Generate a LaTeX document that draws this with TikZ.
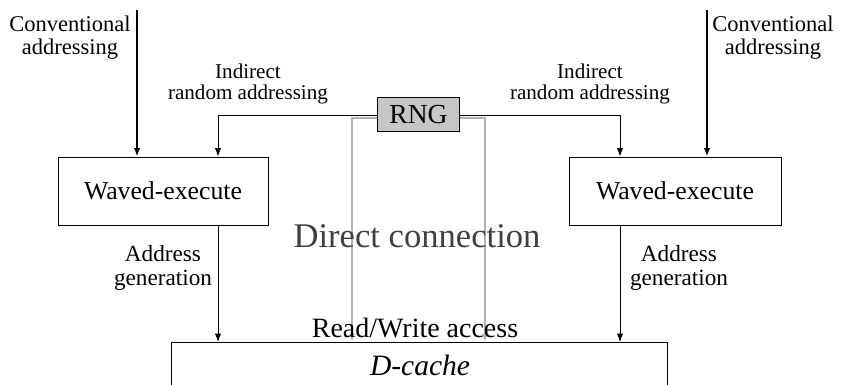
\documentclass[tikz,border=0pt]{standalone}
\usepackage{fontspec}
\setmainfont{Liberation Serif}
\usetikzlibrary{arrows.meta,positioning}

\tikzset{
  box/.style={draw, line width=0.6pt, minimum width=5.25cm, minimum height=1.7cm},
  lbl/.style={align=center, font=\fontsize{16}{16.5}\selectfont},
  arr/.style={-{Latex[length=6pt,width=4.5pt]}, line width=0.7pt},
  direct/.style={-{Latex[length=6pt,width=4.5pt]}, line width=1.4pt, gray!60}
}

\begin{document}
\begin{tikzpicture}[x=0.025cm, y=-0.025cm]
  \useasboundingbox (0,0) rectangle (841,384);

  % blocks
  \node[box, font=\fontsize{18.3}{20}\selectfont] (wl) at (163,191) {Waved-execute};
  \node[box, minimum width=5.3cm, font=\fontsize{18.3}{20}\selectfont] (wr) at (675,191) {Waved-execute};
  \node[draw, line width=0.6pt, fill=gray!45, minimum width=2.07cm, minimum height=0.87cm,
        inner sep=0pt, font=\fontsize{19.6}{20}\selectfont] (rng) at (418.5,114.5) {RNG};
  \draw[line width=0.6pt] (171,400) -- (171,342) coordinate (dtl) -- (667,342) coordinate (dtr) -- (667,400);
  \node[font=\itshape\fontsize{21}{22}\selectfont, anchor=base] (dc) at (420,375) {D-cache};

  % conventional addressing
  \coordinate (cl) at (137,10);
  \coordinate (cr) at (707,10);
  \draw[arr, line width=1.2pt] (cl) -- (cl |- wl.north);
  \draw[arr, line width=1.2pt] (cr) -- (cr |- wr.north);
  \node[lbl] (tcl) at (70,38) {Conventional\\addressing};
  \node[lbl] (tcr) at (773,38) {Conventional\\addressing};

  % indirect random addressing
  \coordinate (il) at (218,115);
  \coordinate (ir) at (620,115);
  \draw[arr] (rng.west |- il) -- (il) -- (il |- wl.north);
  \draw[arr] (rng.east |- ir) -- (ir) -- (ir |- wr.north);
  \node[lbl, font=\fontsize{15}{15}\selectfont] (til) at (248,84) {Indirect\\random addressing};
  \node[lbl, font=\fontsize{15}{15}\selectfont] (tir) at (590,84) {Indirect\\random addressing};

  % address generation
  \draw[arr] (wl.south -| il) -- (il |- dtl);
  \draw[arr] (wr.south -| ir) -- (ir |- dtl);
  \node[lbl, font=\fontsize{16.5}{16.5}\selectfont] (tal) at (163,268) {Address\\generation};
  \node[lbl, font=\fontsize{16.5}{16.5}\selectfont] (tar) at (679,268) {Address\\generation};

  % direct connection
  \coordinate (dl) at (352,118);
  \coordinate (dr) at (485,118);
  \draw[direct] (rng.west |- dl) -- (dl) -- (dl |- dtl);
  \draw[direct] (rng.east |- dr) -- (dr) -- (dr |- dtl);
  \node[anchor=base, text=black!75, font=\fontsize{24.6}{26}\selectfont] (tdc) at (417,247) {Direct connection};
  \node[anchor=base, font=\fontsize{19.9}{21}\selectfont] (trw) at (415,337) {Read/Write access};
\end{tikzpicture}
\end{document}
